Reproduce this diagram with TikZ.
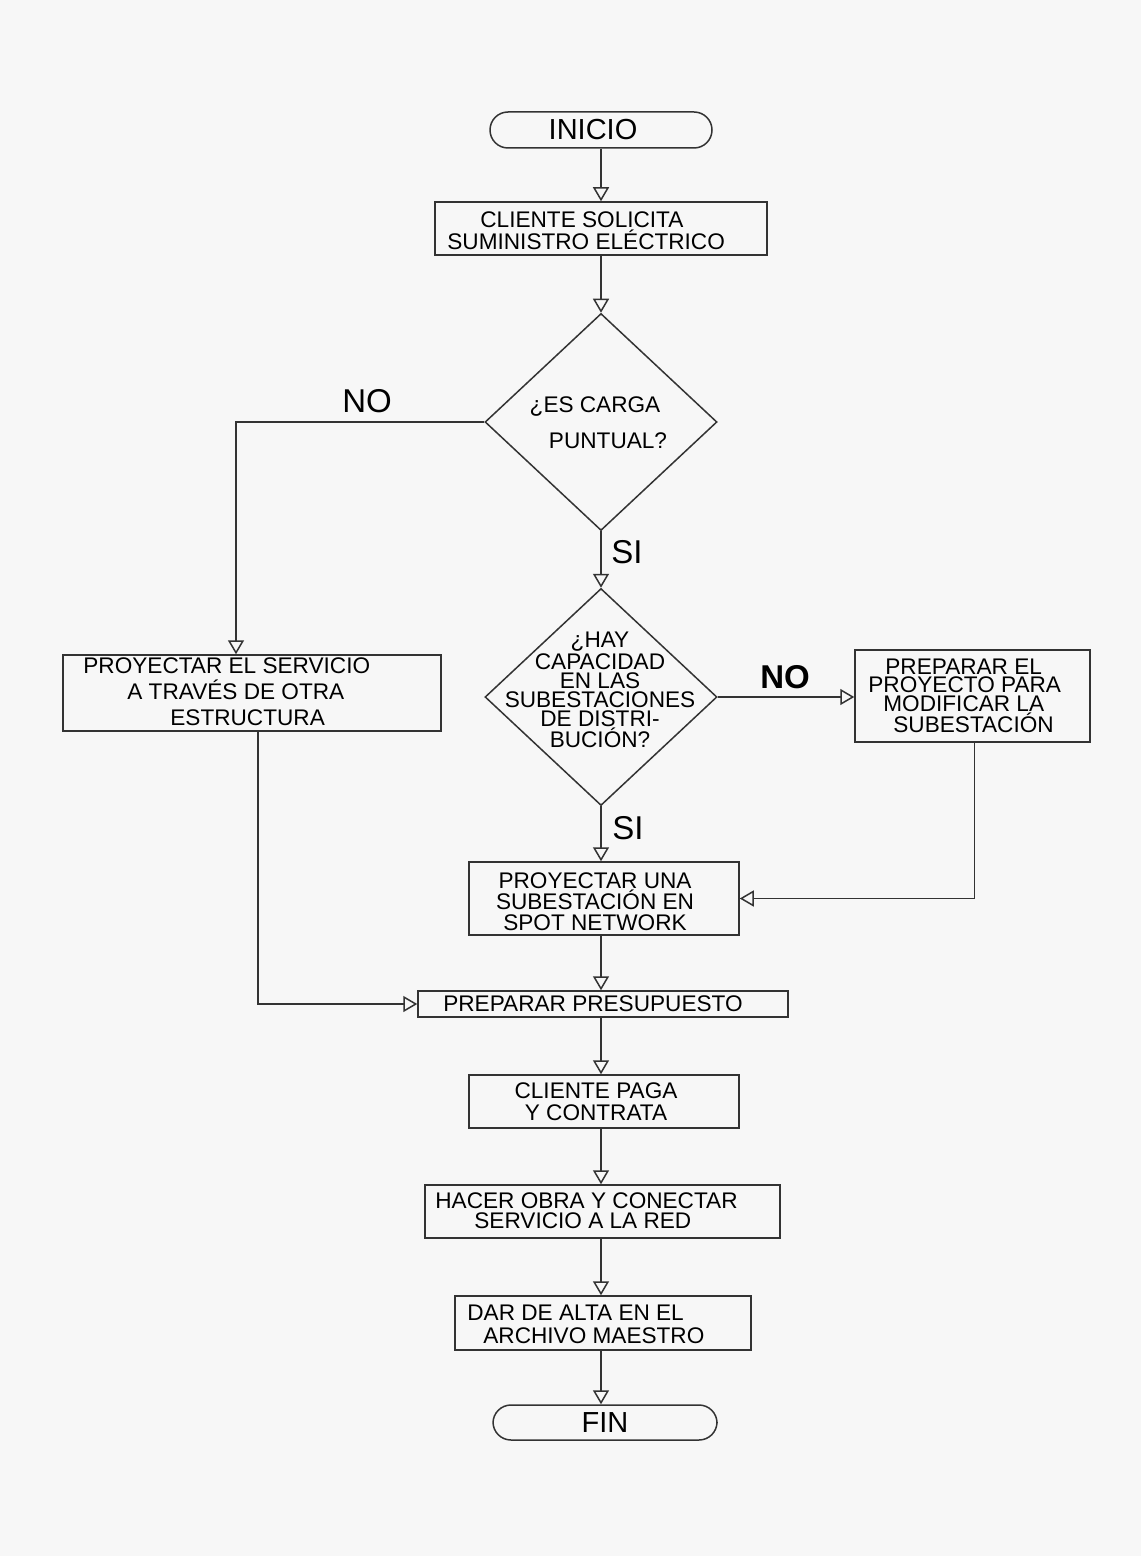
\documentclass[tikz,border=0pt]{standalone}
\usepackage{fontspec}
\setmainfont{Liberation Sans}
\usetikzlibrary{arrows.meta,shapes.geometric}
\begin{document}
\begin{tikzpicture}[x=0.5pt,y=-0.5pt,
  line/.style={draw=black!80, line width=0.75pt},
  arr/.style={line, -{Triangle[open,length=7pt,width=8pt,line width=0.75pt]}},
  box/.style={draw=black!80, line width=0.75pt, rectangle, inner sep=0pt},
  term/.style={draw=black!80, line width=0.75pt, rectangle, rounded corners=9pt, inner sep=0pt},
  dia/.style={draw=black!80, line width=0.75pt, diamond, inner sep=0pt},
  txt/.style={align=center, inner sep=0pt, font=\fontsize{11.3}{10.6}\selectfont},
  ltxt/.style={align=left, anchor=west, inner sep=0pt},
  big/.style={inner sep=0pt, font=\fontsize{14.5}{15}\selectfont},
  lbl/.style={inner sep=0pt, font=\fontsize{16.5}{17}\selectfont}]
\useasboundingbox (0,0) rectangle (1141,1556);
\fill[black!3] (0,0) rectangle (1141,1556);

% nodes
\node[term, minimum width=111pt, minimum height=18pt] (ini) at (601,130) {};
\node[big] (tini) at (593,130) {INICIO};

\node[box, minimum width=166pt, minimum height=26.5pt] (b1) at (601,228.5) {};
\node[ltxt, font=\fontsize{11.3}{9}\selectfont] (t1) at (447,230.5) {\hspace*{16.5pt}CLIENTE SOLICITA\\SUMINISTRO ELÉCTRICO};

\node[dia, minimum width=116pt, minimum height=108.5pt] (d1) at (601,422) {};
\node[txt] (td1a) at (595,407) {¿ES CARGA};
\node[txt] (td1b) at (608,441) {PUNTUAL?};

\node[dia, minimum width=116pt, minimum height=108.5pt] (d2) at (601,697) {};
\node[txt, font=\fontsize{11.3}{9.5}\selectfont] (td2) at (600,690) {¿HAY\\CAPACIDAD\\EN LAS\\SUBESTACIONES\\DE DISTRI-\\BUCIÓN?};

\node[box, minimum width=189pt, minimum height=38pt] (lb) at (252,693) {};
\node[ltxt, font=\fontsize{11.3}{13}\selectfont] (tlb) at (83,691.5) {PROYECTAR EL SERVICIO\\\hspace*{22pt}A TRAVÉS DE OTRA\\\hspace*{43.5pt}ESTRUCTURA};

\node[box, minimum width=117.5pt, minimum height=46pt] (rb) at (972.5,696) {};
\node[ltxt, font=\fontsize{11.3}{9.2}\selectfont] (trb) at (868,696) {\hspace*{8.5pt}PREPARAR EL\\PROYECTO PARA\\\hspace*{7.5pt}MODIFICAR LA\\\hspace*{12.5pt}SUBESTACIÓN};

\node[box, minimum width=135pt, minimum height=36.5pt] (b3) at (604,898.5) {};
\node[txt, font=\fontsize{11.3}{10.5}\selectfont] (t3) at (595,901.5) {PROYECTAR UNA\\SUBESTACIÓN EN\\SPOT NETWORK};

\node[box, minimum width=185pt, minimum height=13pt] (b4) at (603,1004) {};
\node[txt] (t4) at (593,1004) {PREPARAR PRESUPUESTO};

\node[box, minimum width=135pt, minimum height=26.5pt] (b5) at (604,1101.5) {};
\node[txt, font=\fontsize{11.3}{11}\selectfont] (t5) at (596,1101.5) {CLIENTE PAGA\\Y CONTRATA};

\node[box, minimum width=177.5pt, minimum height=26.5pt] (b6) at (602.5,1211.5) {};
\node[ltxt, font=\fontsize{11.3}{10}\selectfont] (t6) at (435,1210.5) {HACER OBRA Y CONECTAR\\\hspace*{19.5pt}SERVICIO A LA RED};

\node[box, minimum width=148pt, minimum height=27pt] (b7) at (603,1323) {};
\node[ltxt, font=\fontsize{11.3}{11.5}\selectfont] (t7) at (467,1324) {DAR DE ALTA EN EL\\\hspace*{8pt}ARCHIVO MAESTRO};

\node[term, minimum width=112pt, minimum height=17.5pt] (fin) at (605,1422.5) {};
\node[big] (tfin) at (605,1422.5) {FIN};

% labels
\node[lbl] (no1) at (367,401) {NO};
\node[lbl, font=\bfseries\fontsize{16.5}{17}\selectfont] (no2) at (785,677) {NO};
\node[lbl] (si1) at (627,552) {SI};
\node[lbl] (si2) at (628,828) {SI};

% connectors
\draw[arr] (ini.south -| 601,0) -- (b1.north -| 601,0);
\draw[arr] (b1.south -| 601,0) -- (d1.north);
\draw[arr] (d1.south) -- (d2.north);
\draw[arr] (d2.south) -- (b3.north -| 601,0);
\draw[arr] (b3.south -| 601,0) -- (b4.north -| 601,0);
\draw[arr] (b4.south -| 601,0) -- (b5.north -| 601,0);
\draw[arr] (b5.south -| 601,0) -- (b6.north -| 601,0);
\draw[arr] (b6.south -| 601,0) -- (b7.north -| 601,0);
\draw[arr] (b7.south -| 601,0) -- (fin.north -| 601,0);
\draw[arr] (d1.west) -| ([xshift=-8pt]lb.north);
\draw[arr] ([xshift=3pt]lb.south) |- (b4.west);
\draw[arr] (d2.east) -- (d2.east -| rb.west);
\draw[arr] ([xshift=1pt]rb.south) |- (b3.east);
\end{tikzpicture}
\end{document}
